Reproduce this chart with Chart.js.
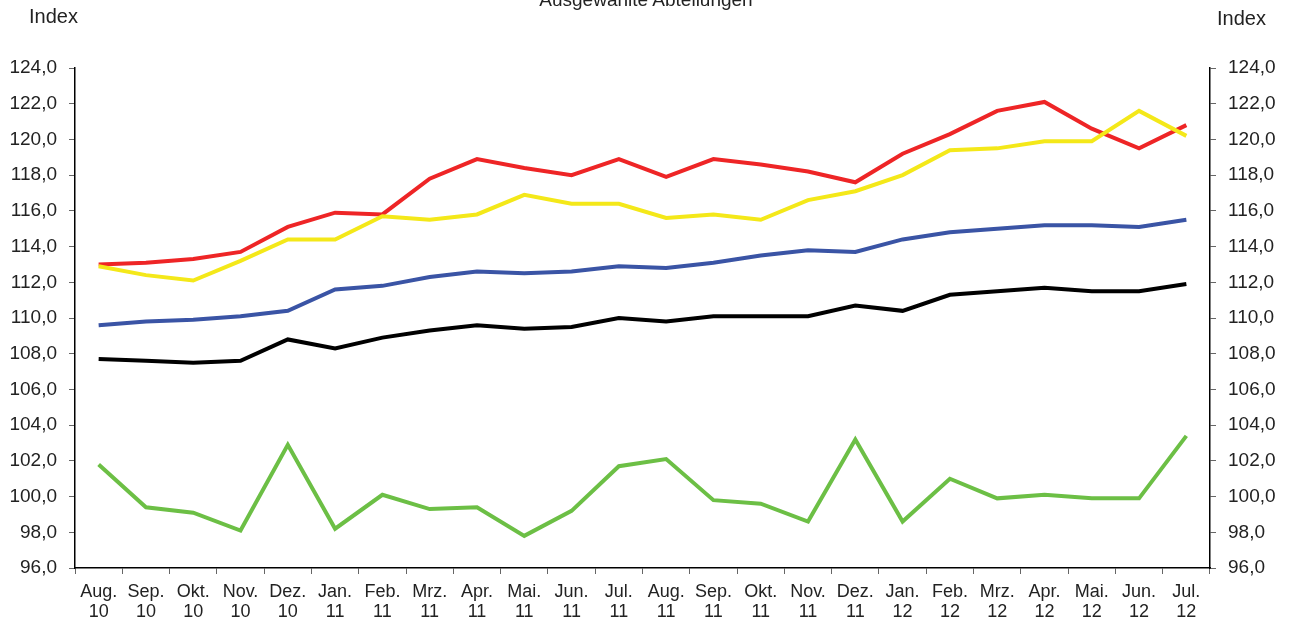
<!DOCTYPE html>
<html>
<head>
<meta charset="utf-8">
<script src="https://cdn.jsdelivr.net/npm/chart.js@4.4.0/dist/chart.umd.min.js"></script>
<style>
  body { margin: 0; background: #fff; font-family: "Liberation Sans", Arial, sans-serif; }
  .wrap { position: relative; width: 1292px; height: 628px; overflow: hidden; }
  .lbl { position: absolute; font-size: 20px; color: #222; }
  #title { left: 0; width: 1292px; top: -11px; text-align: center; font-size: 19px; }
</style>
</head>
<body>
<div class="wrap">
  <canvas id="myChart" width="1292" height="628"></canvas>
  <div class="lbl" id="title">Ausgewählte Abteilungen</div>
  <div class="lbl" style="left:29px; top:5px;">Index</div>
  <div class="lbl" style="left:1217px; top:7px;">Index</div>
</div>
<script>
const labels = [
  ["Aug.", "10"], ["Sep.", "10"], ["Okt.", "10"], ["Nov.", "10"], ["Dez.", "10"],
  ["Jan.", "11"], ["Feb.", "11"], ["Mrz.", "11"], ["Apr.", "11"], ["Mai.", "11"],
  ["Jun.", "11"], ["Jul.", "11"], ["Aug.", "11"], ["Sep.", "11"], ["Okt.", "11"],
  ["Nov.", "11"], ["Dez.", "11"], ["Jan.", "12"], ["Feb.", "12"], ["Mrz.", "12"],
  ["Apr.", "12"], ["Mai.", "12"], ["Jun.", "12"], ["Jul.", "12"],
];

const redData = [
  113.0, 113.1, 113.3, 113.7, 115.1, 115.9, 115.8, 117.8, 118.9, 118.4, 118.0, 118.9,
  117.9, 118.9, 118.6, 118.2, 117.6, 119.2, 120.3, 121.6, 122.1, 120.6, 119.5, 120.8,
];
const yellowData = [
  112.9, 112.4, 112.1, 113.2, 114.4, 114.4, 115.7, 115.5, 115.8, 116.9, 116.4, 116.4,
  115.6, 115.8, 115.5, 116.6, 117.1, 118.0, 119.4, 119.5, 119.9, 119.9, 121.6, 120.2,
];
const blueData = [
  109.6, 109.8, 109.9, 110.1, 110.4, 111.6, 111.8, 112.3, 112.6, 112.5, 112.6, 112.9,
  112.8, 113.1, 113.5, 113.8, 113.7, 114.4, 114.8, 115.0, 115.2, 115.2, 115.1, 115.5,
];
const blackData = [
  107.7, 107.6, 107.5, 107.6, 108.8, 108.3, 108.9, 109.3, 109.6, 109.4, 109.5, 110.0,
  109.8, 110.1, 110.1, 110.1, 110.7, 110.4, 111.3, 111.5, 111.7, 111.5, 111.5, 111.9,
];
const greenData = [
  101.8, 99.4, 99.1, 98.1, 102.9, 98.2, 100.1, 99.3, 99.4, 97.8, 99.2, 101.7,
  102.1, 99.8, 99.6, 98.6, 103.2, 98.6, 101.0, 99.9, 100.1, 99.9, 99.9, 103.4,
];

const yMin = 96;
const yMax = 124;
const yStep = 2;

function line(data, color) {
  return {
    data: data,
    borderColor: color,
    backgroundColor: color,
    borderWidth: 4,
    pointRadius: 0,
    tension: 0,
    yAxisID: "y",
  };
}

const fmt = (v) => v.toFixed(1).replace(".", ",");

const yTicks = {
  stepSize: yStep,
  color: "#222",
  padding: 12,
  font: { family: "Liberation Sans", size: 19 },
  callback: fmt,
};

const config = {
  type: "line",
  data: {
    labels: labels,
    datasets: [
      line(greenData, "#6cbf45"),
      line(blackData, "#000000"),
      line(blueData, "#3a54a5"),
      line(yellowData, "#f4e819"),
      line(redData, "#ee2526"),
    ],
  },
  options: {
    responsive: false,
    animation: false,
    layout: { padding: { top: 68, left: 0, right: 0, bottom: 0 } },
    scales: {
      x: {
        offset: true,
        grid: {
          offset: true,
          drawOnChartArea: false,
          drawTicks: true,
          tickLength: 6,
          color: "#666",
        },
        border: { color: "#000", width: 1.5 },
        ticks: {
          color: "#222",
          padding: 8,
          maxRotation: 0,
          autoSkip: false,
          font: { family: "Liberation Sans", size: 18, lineHeight: 1.1 },
        },
        afterFit: (s) => { s.height = 60; },
      },
      y: {
        position: "left",
        min: yMin,
        max: yMax,
        grid: { drawOnChartArea: false, tickLength: 6, color: "#666" },
        border: { color: "#000", width: 1.5 },
        ticks: yTicks,
        afterFit: (s) => { s.width = 75; },
      },
      y2: {
        position: "right",
        min: yMin,
        max: yMax,
        grid: { drawOnChartArea: false, tickLength: 6, color: "#666" },
        border: { color: "#000", width: 1.5 },
        ticks: yTicks,
        afterFit: (s) => { s.width = 82; },
      },
    },
    plugins: {
      legend: { display: false },
      tooltip: { enabled: false },
    },
  },
};

const myChart = new Chart(document.getElementById("myChart"), config);
</script>
</body>
</html>
